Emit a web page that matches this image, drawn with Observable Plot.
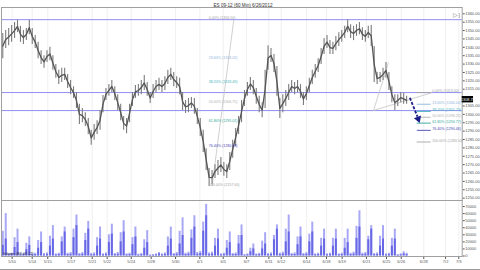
<!DOCTYPE html>
<html><head><meta charset="utf-8">
<script src="https://cdn.jsdelivr.net/npm/d3@7"></script>
<script src="https://cdn.jsdelivr.net/npm/@observablehq/plot@0.6"></script>
<style>
html,body{margin:0;padding:0;background:#fff;}
#chart{width:480px;height:270px;overflow:hidden;box-sizing:border-box;border-bottom:1px solid #9a9a9a;}
#chart svg{display:block;}
</style></head><body><div id="chart"></div>
<script>
const title = "ES 09-12 (60 Min) 6/26/2012";
const volumeLabel = "Volume (ES 09-12)";
// trading sessions (day index 0 = 5/9/2012)
const days = ["5/9","5/10","5/11","5/14","5/15","5/16","5/17","5/18","5/21","5/22","5/23","5/24","5/25","5/28","5/29","5/30","5/31","6/1","6/4","6/5","6/6","6/7","6/8","6/11","6/12","6/13","6/14","6/15","6/18","6/19","6/20","6/21","6/22","6/25","6/26"];
// one bar per quarter session, starting in the third quarter of 5/9
const highs = [1348.25,1350.00,1351.25,1353.00,1354.75,1356.25,1352.50,1350.00,1351.25,1356.00,
1351.25,1347.00,1343.00,1338.00,1335.00,1338.00,1340.00,1335.00,1329.75,1326.25,
1327.50,1327.50,1323.75,1320.25,1316.50,1313.00,1306.00,1303.50,1301.00,1297.50,
1290.50,1294.00,1296.25,1302.25,1311.25,1315.50,1317.75,1320.25,1316.50,1311.75,
1306.00,1298.75,1297.50,1306.00,1313.00,1317.25,1317.75,1320.25,1323.25,1319.00,
1313.00,1317.75,1320.25,1321.50,1320.25,1322.50,1326.25,1327.50,1325.00,1322.50,
1321.50,1313.00,1308.25,1309.50,1310.00,1309.50,1303.50,1297.50,1290.50,1279.50,
1267.75,1266.50,1270.00,1272.50,1274.25,1271.25,1270.00,1277.25,1284.50,1291.50,
1298.75,1308.25,1314.25,1319.00,1322.00,1320.25,1315.50,1310.75,1307.00,1326.25,
1341.00,1339.25,1335.75,1328.50,1309.50,1311.75,1314.25,1317.75,1320.25,1319.00,
1320.25,1317.75,1313.00,1316.50,1321.50,1326.25,1329.75,1333.25,1339.25,1345.25,
1347.00,1344.00,1343.00,1346.50,1348.75,1350.00,1352.50,1356.50,1353.50,1352.50,
1353.50,1354.75,1351.75,1350.00,1352.50,1353.00,1340.50,1325.00,1325.00,1327.50,
1331.00,1325.00,1316.50,1311.75,1311.75,1313.00,1312.50,1310.75];
const lows = [1333.25,1339.25,1341.00,1343.00,1345.25,1348.75,1343.00,1341.75,1344.00,1347.50,
1341.75,1339.25,1333.25,1329.75,1327.50,1331.00,1332.00,1326.25,1321.50,1317.75,
1319.00,1320.25,1315.50,1311.75,1309.50,1303.50,1294.00,1295.00,1292.75,1288.00,
1281.50,1284.50,1288.00,1290.50,1301.00,1308.25,1310.75,1313.00,1308.25,1302.25,
1296.25,1290.50,1288.50,1295.00,1304.75,1309.50,1310.75,1311.75,1314.25,1310.75,
1306.50,1309.50,1313.00,1314.25,1313.00,1314.25,1317.75,1320.25,1316.50,1315.50,
1311.75,1302.25,1300.50,1301.00,1303.50,1300.00,1294.00,1286.75,1277.25,1266.50,
1257.00,1258.00,1261.75,1263.50,1265.25,1263.00,1261.75,1266.50,1273.75,1280.75,
1288.00,1295.00,1304.75,1310.75,1314.25,1311.75,1306.00,1301.00,1298.00,1303.50,
1326.25,1331.00,1325.00,1310.75,1297.50,1301.00,1304.75,1308.25,1313.00,1311.75,
1313.00,1309.50,1305.25,1308.25,1313.00,1317.75,1321.50,1325.00,1329.75,1335.75,
1339.25,1335.75,1335.75,1338.00,1340.50,1343.00,1345.25,1348.75,1345.25,1344.00,
1346.50,1347.50,1344.00,1343.00,1345.25,1340.50,1319.00,1317.75,1319.00,1320.25,
1321.50,1314.25,1307.00,1302.25,1304.75,1307.00,1306.00,1306.00];
const volLight = [35000,60000,
3000,4000,26000,38000, 2500,3500,18000,27000, 3000,4000,22000,34000, 3500,4500,28000,43000,
3000,4000,27000,41000, 4000,5000,38000,58000, 3500,5000,32000,49000, 3500,4500,26000,41000,
3000,4500,30000,45000, 3500,5000,33000,50000, 3000,4000,26000,41000, 2500,3500,23000,36000,
1500,2000,3000,5000, 3000,4500,27000,41000, 3500,5000,35000,54000, 4000,5500,37000,57000,
5000,6500,48000,73000, 4500,5500,25000,38000, 3000,4000,22000,34000, 3500,4500,29000,44000,
2000,3000,11000,17000, 3000,4000,21000,33000, 3500,4500,29000,44000, 4000,5500,38000,58000,
3500,4500,27000,41000, 3500,5000,31000,48000, 3000,4000,25000,38000, 3000,4000,25000,38000,
3000,4000,25000,38000, 4000,5500,42000,64000, 4000,5000,28000,43000, 3500,4500,28000,43000,
3000,4000,25000,38000, 2000,3000,6000,4000];
const volDark = [15000,24000,
1500,2000,12000,19000, 1200,1800,9000,15000, 1500,2000,11000,19000, 1500,2200,14000,24000,
1500,2200,20000,34000, 2000,2500,26000,43000, 1800,2500,22000,38000, 1600,2000,14000,24000,
1500,2200,19000,31000, 1800,2500,20000,34000, 1500,2000,16000,27000, 1200,1800,11000,19000,
800,1000,1500,3000, 1500,2200,14000,24000, 1800,2500,17000,29000, 2000,2800,25000,41000,
2500,3500,35000,57000, 2200,2800,14000,24000, 1500,2000,11000,19000, 1800,2200,17000,29000,
1000,1500,6000,10000, 1500,2000,10000,17000, 1800,2200,23000,38000, 2000,2800,20000,34000,
1800,2200,16000,27000, 1800,2500,20000,34000, 1500,2000,14000,24000, 1500,2000,14000,24000,
1500,2000,11000,19000, 2000,2800,25000,41000, 2000,2500,23000,38000, 1800,2200,14000,24000,
1500,2000,14000,24000, 1000,1500,3000,2000];
const lastPrice = 1308.75;
const priceTicks = [1250,1255,1260,1265,1270,1275,1280,1285,1290,1295,1300,1305,1310,1315,1320,1325,1330,1335,1340,1345,1350,1355,1360];
const volTicks = [0,10000,20000,30000,40000,50000,60000,70000];
// x-axis date labels and their session-time positions
const xTickT = [1.42,3.12,4.44,6.43,8.21,9.48,11.52,13.21,15.28,17.34,19.32,21.3,23.19,24.24,26.39,28.08,29.41,31.47,33.17,34.42,36.33,38.18,39.3];
const xTickLabels = ["5/10","5/14","5/15","5/17","5/21","5/22","5/24","5/28","5/30","6/1","6/5","6/7","6/11","6/12","6/14","6/18","6/19","6/21","6/25","6/26","6/28","7/2","7/3"];
// horizontal reference lines
const hLines = [1356.50, 1313.00, 1302.25];
// Fibonacci levels
const fibNames = ["0.00%","23.60%","38.20%","50.00%","61.80%","76.40%","100.00%"];
const bigFib = [1356.50,1333.02,1318.49,1306.75,1295.01,1280.48,1257.00];
const smallFib = [1313.00,1306.04,1301.73,1298.25,1294.77,1290.46,1283.50];
const fibColors = ["#a3a3a3","#8fb4dc","#3fb4bc","#b0b0b0","#2fa595","#4646b4","#a3a3a3"];

const xDomain = [0.517, 39.59];
const bars = highs.map((h, i) => ({t: (i + 2) / 4 + 0.125, high: h, low: lows[i], vl: volLight[i], vd: volDark[i]}));
const labelOf = new Map(xTickT.map((t, i) => [t, xTickLabels[i]]));
const fmt = d => d.toFixed(2);
const bigRows = bigFib.map((v, i) => ({v, label: `${fibNames[i]} (${fmt(v)})`, c: fibColors[i]}));
const smallRows = smallFib.map((v, i) => ({v, label: `${fibNames[i]} (${fmt(v)})`, c: fibColors[i]}));
const font = "Liberation Sans, Arial, sans-serif";

const price = Plot.plot({
  width: 480, height: 200,
  marginLeft: 1, marginRight: 18.3, marginTop: 7, marginBottom: 0,
  x: {domain: xDomain, axis: null},
  y: {domain: [1248.6, 1363.76], axis: null},
  style: {fontSize: "4px", fontFamily: font, background: "#fff", overflow: "visible"},
  marks: [
    Plot.ruleX(xTickT, {stroke: "#ececec", strokeWidth: 0.8}),
    Plot.ruleY(hLines, {stroke: "#8f8ff2", strokeWidth: 1}),
    Plot.link([{x1: 18.37, y1: 1257.0, x2: 20.22, y2: 1356.5},
               {x1: 32.07, y1: 1302.3, x2: 33.34, y2: 1330.9},
               {x1: 32.07, y1: 1302.3, x2: 37.05, y2: 1313.0}],
      {x1: "x1", y1: "y1", x2: "x2", y2: "y2", stroke: "#c4c4c4", strokeWidth: 0.8}),
    Plot.ruleY(smallRows, {y: "v", x1: 35.78, x2: 36.96, stroke: "c", strokeWidth: 0.9}),
    Plot.ruleX(bars, {x: "t", y1: "low", y2: "high", stroke: "#7c7c7c", strokeWidth: 1.1}),
    Plot.line(bars, {x: "t", y: d => (d.high + d.low) / 2, stroke: "#555", strokeWidth: 1.3}),
    Plot.link([{x1: 35.15, y1: 1309.9, x2: 35.80, y2: 1298.6}],
      {x1: "x1", y1: "y1", x2: "x2", y2: "y2", stroke: "#1c1c86", strokeWidth: 1.8, strokeDasharray: "3,1.6"}),
    Plot.dot([{t: 35.86, p: 1297.3}], {x: "t", y: "p", symbol: "triangle", r: 2.8, fill: "#1c1c86", rotate: 160}),
    Plot.text(bigRows, {x: 18.1, y: "v", text: "label", fill: "c", textAnchor: "start", dy: -1.5, fontSize: 3.6}),
    Plot.text(smallRows, {x: 37.05, y: "v", text: "label", fill: "c", textAnchor: "start", dy: -1.5, fontSize: 3.6}),
    Plot.axisY({anchor: "right", label: null, ticks: priceTicks, tickFormat: d => (d === 1310 ? "" : fmt(d)), tickSize: 2, tickPadding: 1, color: "#555"}),
    Plot.frame({stroke: "#a0a0a0"}),
    Plot.rect([{x1: 39.59, x2: 40.55, y1: lastPrice - 1.9, y2: lastPrice + 1.9}], {x1: "x1", x2: "x2", y1: "y1", y2: "y2", fill: "#000"}),
    Plot.text([lastPrice], {x: 40.07, y: d => d, text: fmt, fill: "#fff", fontSize: 3.8}),
    Plot.text([title], {x: 21.0, frameAnchor: "top", dy: -3.4, fontSize: 4.6, fill: "#333"}),
    Plot.text(["\u25B7|"], {x: 39.12, frameAnchor: "top", dy: 5.5, fontSize: 6, fill: "#777"})
  ]
});

const volume = Plot.plot({
  width: 480, height: 69,
  marginLeft: 1, marginRight: 18.3, marginTop: 0, marginBottom: 13,
  x: {domain: xDomain, label: null},
  y: {domain: [-700, 78550], label: null},
  style: {fontSize: "4px", fontFamily: font, background: "#fff", overflow: "visible"},
  marks: [
    Plot.ruleX(xTickT, {stroke: "#ececec", strokeWidth: 0.8}),
    Plot.ruleX(bars, {x: "t", y1: 0, y2: "vl", stroke: "#a8a8f4", strokeWidth: 2}),
    Plot.ruleX(bars, {x: "t", y1: 0, y2: "vd", stroke: "#6868e6", strokeWidth: 2}),
    Plot.axisY({anchor: "right", label: null, ticks: volTicks, tickFormat: d => String(d), tickSize: 2, tickPadding: 1, color: "#555"}),
    Plot.axisX({anchor: "bottom", label: null, ticks: xTickT, tickFormat: t => labelOf.get(t), tickSize: 3, tickPadding: 1, color: "#555"}),
    Plot.frame({stroke: "#a0a0a0"}),
    Plot.text([volumeLabel], {frameAnchor: "bottom-left", dx: 1.5, dy: -2, textAnchor: "start", fontSize: 3.6, fill: "#223"})
  ]
});

const el = document.getElementById("chart");
el.append(price, volume);
</script>
</body></html>
